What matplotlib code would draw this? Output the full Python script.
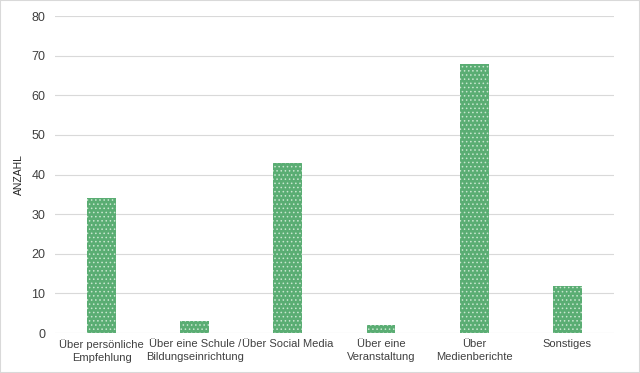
import matplotlib
matplotlib.use('Agg')
import matplotlib.pyplot as plt
from matplotlib.patches import Rectangle

plt.rcParams['font.family'] = ['Liberation Sans', 'DejaVu Sans']
plt.rcParams['hatch.color'] = '#c8e6cf'
plt.rcParams['hatch.linewidth'] = 0.6

categories = ['Über persönliche\nEmpfehlung', 'Über eine Schule /\nBildungseinrichtung',
              'Über Social Media', 'Über eine\nVeranstaltung', 'Über\nMedienberichte',
              'Sonstiges']
values = [34, 3, 43, 2, 68, 12]
yticks = [0, 10, 20, 30, 40, 50, 60, 70, 80]

fig = plt.figure(figsize=(6.4, 3.73), dpi=100)
ax = fig.add_axes([0.086, 0.107, 0.873, 0.85])

x = range(len(categories))
ax.bar(x, values, width=0.31, color='#5aad73', hatch='....', edgecolor='#c8e6cf',
       linewidth=0, zorder=3)

ax.set_xlim(-0.5, len(categories) - 0.5)
ax.set_ylim(0, 80)
ax.set_yticks(yticks)
ax.set_xticks(list(x))
ax.set_xticklabels(categories, fontsize=8, color='#404040', linespacing=1.45)
ax.tick_params(axis='y', labelsize=9, labelcolor='#404040', length=0, pad=7)
ax.tick_params(axis='x', length=0, pad=4)
ax.grid(axis='y', color='#d9d9d9', linewidth=0.8, zorder=0)
for s in ax.spines.values():
    s.set_visible(False)
ax.set_ylabel('ANZAHL', fontsize=7.5, color='#262626')
ax.yaxis.set_label_coords(-0.055, 0.5)

fig.patches.append(Rectangle((0, 0), 1, 1, transform=fig.transFigure, fill=False,
                             edgecolor='#d9d9d9', linewidth=1.5))

fig.savefig('out.png', dpi=100)
